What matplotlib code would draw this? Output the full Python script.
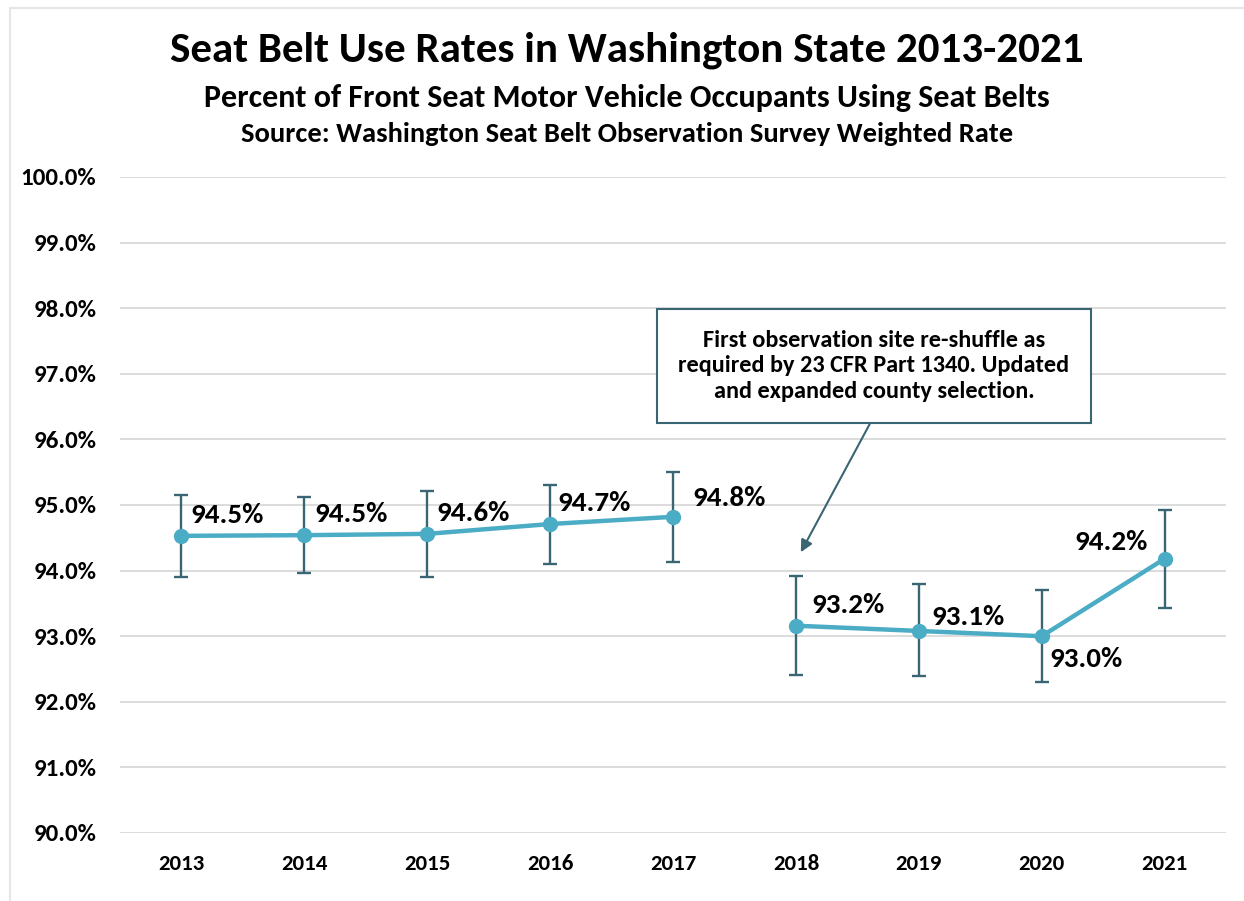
import matplotlib
matplotlib.use('Agg')
import matplotlib.pyplot as plt
from matplotlib import font_manager
import numpy as np

# data
years = ['2013', '2014', '2015', '2016', '2017', '2018', '2019', '2020', '2021']
rate = [94.53, 94.54, 94.56, 94.71, 94.82, 93.16, 93.08, 93.00, 94.18]
ci_high = [95.15, 95.12, 95.21, 95.30, 95.50, 93.92, 93.80, 93.70, 94.92]
ci_low = [93.90, 93.96, 93.90, 94.10, 94.13, 92.41, 92.39, 92.30, 93.43]
rate_labels = ['94.5%', '94.5%', '94.6%', '94.7%', '94.8%', '93.2%', '93.1%', '93.0%', '94.2%']
yticks = [90, 91, 92, 93, 94, 95, 96, 97, 98, 99, 100]

title = 'Seat Belt Use Rates in Washington State 2013-2021'
subtitle = 'Percent of Front Seat Motor Vehicle Occupants Using Seat Belts'
source = 'Source: Washington Seat Belt Observation Survey Weighted Rate'
note = ('First observation site re-shuffle as\n'
        'required by 23 CFR Part 1340. Updated\n'
        'and expanded county selection.')

# pick a font close to Calibri
installed = {f.name for f in font_manager.fontManager.ttflist}
font = 'DejaVu Sans'
for cand in ['Carlito', 'Liberation Sans Narrow', 'Open Sans Condensed', 'Roboto Condensed', 'Lato']:
    if cand in installed:
        font = cand
        break
plt.rcParams['font.family'] = [font, 'DejaVu Sans']
plt.rcParams['font.weight'] = 'bold'

line_col = '#4bacc6'
err_col = '#3a6573'
grid_col = '#d9d9d9'

fig = plt.figure(figsize=(12.44, 9.01), dpi=100)
ax = fig.add_axes([120 / 1244, 68 / 901, 1106 / 1244, 656 / 901])

x = np.arange(len(years))
y = np.array(rate)
yerr = [y - np.array(ci_low), np.array(ci_high) - y]

ax.errorbar(x, y, yerr=yerr, fmt='none', ecolor=err_col, elinewidth=1.7,
            capsize=5, capthick=1.7, zorder=3)
# two survey periods, not joined
ax.plot(x[:5], y[:5], color=line_col, lw=3.2, marker='o', ms=10, zorder=4)
ax.plot(x[5:], y[5:], color=line_col, lw=3.2, marker='o', ms=10, zorder=4)

# label offsets (pixels)
offs = [(9, 21, 'left'), (10, 21, 'left'), (9, 21, 'left'), (7, 21, 'left'),
        (19, 19, 'left'), (16, 21, 'left'), (13, 14, 'left'), (8, -23, 'left'),
        (-17, 17, 'right')]
for i, lab in enumerate(rate_labels):
    dx, dy, ha = offs[i]
    ax.annotate(lab, (x[i], y[i]), xytext=(dx, dy), textcoords='offset pixels',
                ha=ha, va='center', fontsize=21, fontweight='bold', zorder=5)

ax.set_xlim(-0.5, len(years) - 0.5)
ax.set_ylim(90, 100)
ax.set_yticks(yticks)
ax.set_yticklabels(['%.1f%%' % v for v in yticks])
ax.set_xticks(x)
ax.set_xticklabels(years)
ax.tick_params(axis='both', length=0)
ax.tick_params(axis='y', pad=17, labelsize=18)
ax.tick_params(axis='x', pad=15, labelsize=16.5)
for lab in ax.get_xticklabels() + ax.get_yticklabels():
    lab.set_fontweight('bold')
ax.grid(axis='y', color=grid_col, lw=1.3)
ax.set_axisbelow(True)
for s in ax.spines.values():
    s.set_visible(False)

ax.annotate(note, xy=(5.04, 94.28), xytext=(5.635, 97.12), textcoords='data',
            ha='center', va='center', fontsize=17.5, fontweight='bold',
            linespacing=1.25,
            bbox=dict(boxstyle='square,pad=0.88', fc='white', ec=err_col, lw=1.5),
            arrowprops=dict(arrowstyle='-|>', color=err_col, lw=1.5,
                            mutation_scale=18, relpos=(0.52, 0), shrinkA=0, shrinkB=0),
            zorder=6)

fig.text(0.504, 1 - 50 / 901, title, ha='center', va='center', fontsize=31, fontweight='bold')
fig.text(0.504, 1 - 98 / 901, subtitle, ha='center', va='center', fontsize=23, fontweight='bold')
fig.text(0.504, 1 - 134 / 901, source, ha='center', va='center', fontsize=20.5, fontweight='bold')

# faint frame of the original picture
fig.add_artist(plt.Line2D([10 / 1244, 10 / 1244], [0, 1 - 8 / 901], color='#e6e6e6', lw=1.5))
fig.add_artist(plt.Line2D([10 / 1244, 1], [1 - 8 / 901, 1 - 8 / 901], color='#e6e6e6', lw=1.5))

fig.savefig('out.png', dpi=100)
